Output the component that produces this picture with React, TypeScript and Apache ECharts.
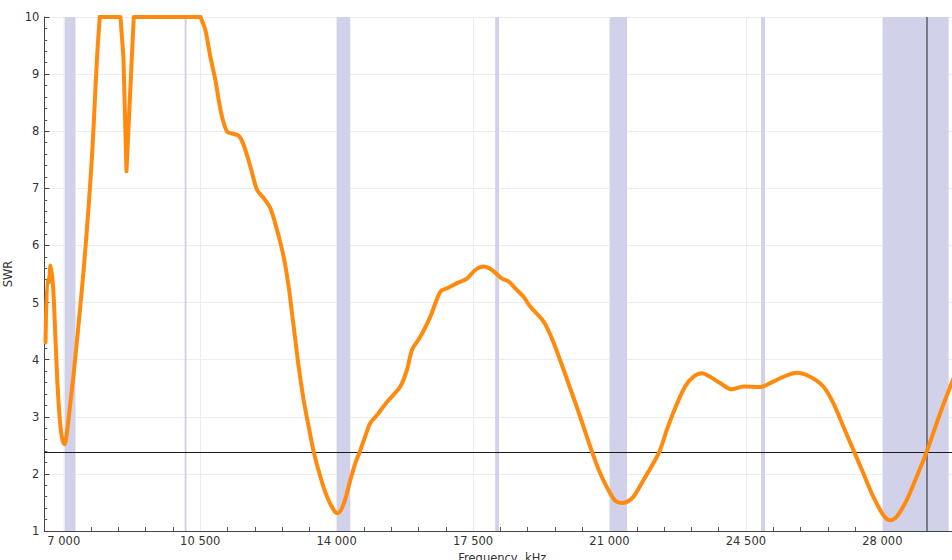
import React, { useEffect, useRef } from "react";
import * as echarts from "echarts";

// Frequency (kHz) and measured SWR
const FREQ = [
  6531, 6580, 6612, 6659, 6728, 6787, 6846, 6915, 6970, 7020, 7080, 7128, 7256, 7385, 7513, 7641, 7728, 7795, 7856, 7923,
  8454, 8530, 8608, 8795, 10505,
  10633, 10761, 10889, 10974, 11061, 11190, 11318, 11487, 11615, 11787, 11959, 12128, 12300, 12471, 12641, 12769, 12856,
  12941, 13025, 13154, 13282, 13410, 13582, 13754, 13923, 14025, 14179, 14351, 14480, 14590, 14760, 14864, 15036, 15292,
  15633, 15805, 15933, 16146, 16402, 16659, 16830, 17087, 17343, 17556, 17769, 17984, 18241, 18410, 18582, 18794, 18966,
  19307, 19523, 19735, 19992, 20248, 20505, 20761, 21017, 21150, 21300, 21450, 21615, 21871, 22128, 22299, 22471, 22684,
  22940, 23153, 23369, 23581, 23838, 24138, 24435, 24863, 25120, 25461, 25804, 26145, 26486, 26743, 26999, 27256, 27512,
  27768, 28025, 28196, 28368, 28625, 28881, 29138, 29394, 29607, 29779, 29900,
];
const SWR = [
  4.3, 5.4, 5.35, 5.65, 5.25, 4.36, 3.47, 2.82, 2.58, 2.52, 2.72, 3.0, 3.77, 4.66, 5.6, 6.72, 7.61, 8.5, 9.33, 10,
  10, 9.3, 7.3, 10, 10,
  9.77, 9.3, 8.9, 8.55, 8.25, 7.99, 7.96, 7.92, 7.76, 7.38, 6.97, 6.83, 6.65, 6.27, 5.8, 5.28, 4.81,
  4.34, 3.88, 3.29, 2.83, 2.39, 1.95, 1.6, 1.37, 1.31, 1.47, 1.89, 2.19, 2.38, 2.71, 2.89, 3.03, 3.26,
  3.53, 3.82, 4.17, 4.4, 4.75, 5.19, 5.25, 5.34, 5.42, 5.57, 5.63, 5.57, 5.42, 5.37, 5.25, 5.1, 4.93,
  4.67, 4.37, 3.99, 3.5, 3.0, 2.48, 2.01, 1.66, 1.53, 1.49, 1.51, 1.6, 1.89, 2.19, 2.42, 2.77, 3.15,
  3.53, 3.7, 3.76, 3.7, 3.59, 3.48, 3.53, 3.52, 3.59, 3.7, 3.77, 3.7, 3.53, 3.24, 2.83, 2.42, 2.01,
  1.6, 1.28, 1.19, 1.25, 1.54, 1.95, 2.39, 2.89, 3.29, 3.59, 3.8,
];

// Amateur bands (kHz)
const BAND_START = [7000, 10100, 14000, 18068, 21000, 24890, 28000];
const BAND_END = [7300, 10150, 14350, 18168, 21450, 24990, 29700];

const X_LABELS = [7000, 10500, 14000, 17500, 21000, 24500, 28000];
const X_TICKS = [
  7000, 7700, 8400, 9100, 9800, 10500, 11200, 11900, 12600, 13300, 14000, 14700, 15400, 16100, 16800, 17500, 18200,
  18900, 19600, 20300, 21000, 21700, 22400, 23100, 23800, 24500, 25200, 25900, 26600, 27300, 28000, 28700, 29400,
];
const LIMIT_SWR = 2.38;
const MARKER_FREQ = 29150;
const FLAT_START = 7923;
const FLAT_END = 10505;

const ORANGE = "#ff8a0d";
const FONT = "DejaVu Sans";

export default function App() {
  const ref = useRef<HTMLDivElement>(null);

  useEffect(() => {
    if (!ref.current) return;
    const chart = echarts.init(ref.current, null, { renderer: "svg" });
    const pts = FREQ.map((f, i) => [f, SWR[i]]);
    const iA = FREQ.indexOf(FLAT_START);
    const iB = FREQ.indexOf(FLAT_END);
    const part1 = pts.slice(0, iA + 1);
    const part2 = pts.slice(iA, iB + 1);
    const part3 = pts.slice(iB);

    const lineBase = {
      type: "line",
      showSymbol: false,
      symbol: "none",
      silent: true,
      z: 5,
      lineStyle: { color: ORANGE, width: 4, cap: "round", join: "round" },
    };

    chart.setOption({
      animation: false,
      grid: { left: 44.3, right: -8.3, top: 17, bottom: 29, containLabel: false, outerBoundsMode: "none" },
      xAxis: {
        type: "value",
        min: 6500,
        max: 30000,
        name: "Frequency, kHz",
        nameLocation: "middle",
        nameGap: 19,
        nameTextStyle: { color: "#333", fontFamily: FONT, fontSize: 11.5 },
        axisLine: { show: true, lineStyle: { color: "#444", width: 1 } },
        axisTick: { show: true, inside: true, length: 4, customValues: X_TICKS, lineStyle: { color: "#555" } },
        axisLabel: {
          customValues: X_LABELS,
          margin: 4,
          color: "#333",
          fontFamily: FONT,
          fontSize: 11.5,
          formatter: (v: number) => String(v).replace(/\B(?=(\d{3})+(?!\d))/g, " "),
        },
        splitLine: { show: false },
      },
      yAxis: {
        type: "value",
        min: 1,
        max: 10,
        interval: 1,
        name: "SWR",
        nameLocation: "middle",
        nameGap: 25,
        nameTextStyle: { color: "#333", fontFamily: FONT, fontSize: 11.5 },
        axisLine: { show: true, lineStyle: { color: "#444", width: 1 } },
        axisTick: { show: true, inside: true, length: 5, lineStyle: { color: "#444" } },
        minorTick: { show: true, splitNumber: 5, length: 3, lineStyle: { color: "#555" } },
        axisLabel: { margin: 5, color: "#333", fontFamily: FONT, fontSize: 11.5 },
        splitLine: { show: true, lineStyle: { color: "#ebebf2", width: 1 } },
      },
      series: [
        {
          type: "line",
          data: [],
          silent: true,
          z: 1,
          markArea: {
            silent: true,
            itemStyle: { color: "#d1d1e9" },
            data: BAND_START.map((s, i) => [{ xAxis: s }, { xAxis: BAND_END[i] }]),
          },
          markLine: {
            silent: true,
            symbol: ["none", "none"],
            label: { show: false },
            lineStyle: { color: "#ebebf2", width: 1, type: "solid" },
            data: X_LABELS.map((x) => ({ xAxis: x })),
          },
        },
        { ...lineBase, data: part1, smooth: 0.3 },
        { ...lineBase, data: part2, smooth: false },
        {
          ...lineBase,
          data: part3,
          smooth: 0.3,
          markLine: {
            silent: true,
            symbol: ["none", "none"],
            label: { show: false },
            data: [
              { yAxis: LIMIT_SWR, lineStyle: { color: "#1a1a1a", width: 1, type: "solid" } },
              { xAxis: MARKER_FREQ, lineStyle: { color: "#5a5a66", width: 1.5, type: "solid" } },
            ],
          },
        },
      ],
    });
    return () => chart.dispose();
  }, []);

  return (
    <div
      ref={ref}
      style={{ position: "absolute", left: 0, top: 0, width: 952, height: 560, background: "#fff" }}
    />
  );
}
